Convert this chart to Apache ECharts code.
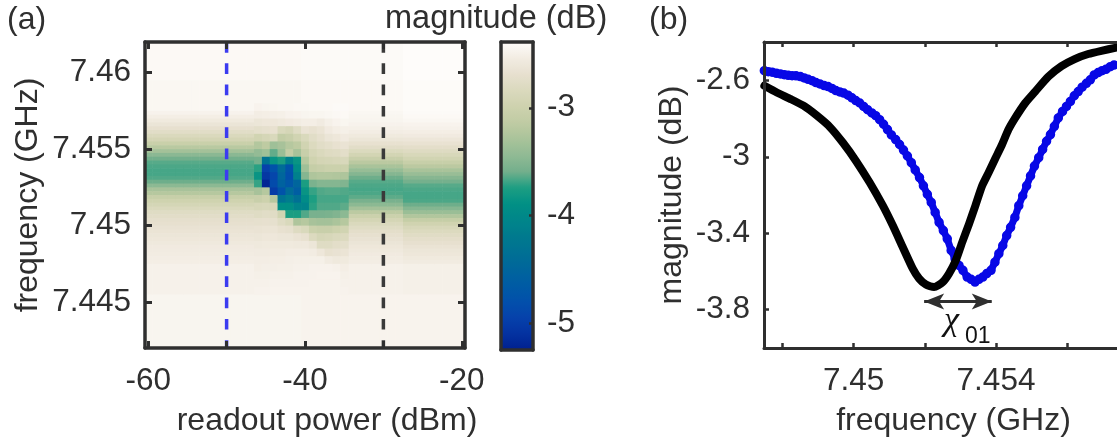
<!DOCTYPE html>
<html>
<head>
<meta charset="utf-8">
<style>html,body{margin:0;padding:0;background:#fff}#main{width:1117px;height:442px}</style>
<script src="https://cdn.jsdelivr.net/npm/echarts@6/dist/echarts.min.js"></script>
</head>
<body>
<div id="main"></div>
<script>
// (a) heatmap, base band: rows have uneven edges, fine only around the resonance
var baseEdges = [7.462, 7.4595, 7.4575, 7.45725, 7.457, 7.45675, 7.4565, 7.45625, 7.456, 7.45575, 7.4555, 7.45525, 7.455,
  7.45475, 7.4545, 7.45425, 7.454, 7.45375, 7.4535, 7.45325, 7.453, 7.45275, 7.4525, 7.45225, 7.452,
  7.45175, 7.4515, 7.45125, 7.451, 7.45075, 7.4505, 7.45025, 7.45, 7.44975, 7.4495, 7.44925, 7.449,
  7.44875, 7.4485, 7.44825, 7.448, 7.44775, 7.4475, 7.4455, 7.442];
var lowPower = [-2.42, -2.44, -2.48, -2.52, -2.57, -2.63, -2.69, -2.76, -2.84, -2.92, -3.04, -3.18, -3.32, -3.47, -3.59, -3.64,
  -3.66, -3.67, -3.67, -3.65, -3.6, -3.46, -3.3, -3.2, -3.06, -2.98, -2.91, -2.84, -2.78, -2.75, -2.71, -2.69, -2.66,
  -2.64, -2.62, -2.6, -2.58, -2.56, -2.55, -2.54, -2.53, -2.52, -2.49, -2.46];
var midPower = [-2.41, -2.42, -2.44, -2.45, -2.46, -2.48, -2.5, -2.53, -2.57, -2.62, -2.68, -2.75, -2.83, -2.93, -3.05, -3.17,
  -3.29, -3.4, -3.5, -3.6, -3.64, -3.66, -3.67, -3.66, -3.63, -3.56, -3.46, -3.32, -3.16, -3.02, -2.92, -2.84, -2.78,
  -2.73, -2.69, -2.66, -2.63, -2.6, -2.58, -2.56, -2.54, -2.53, -2.49, -2.47];
var highPower = [-2.39, -2.4, -2.41, -2.42, -2.44, -2.47, -2.49, -2.52, -2.56, -2.61, -2.67, -2.73, -2.8, -2.87, -2.95, -3.06,
  -3.17, -3.29, -3.39, -3.49, -3.58, -3.64, -3.66, -3.67, -3.67, -3.66, -3.6, -3.5, -3.38, -3.24, -3.08, -2.97, -2.88,
  -2.82, -2.77, -2.73, -2.69, -2.65, -2.62, -2.6, -2.57, -2.55, -2.5, -2.47];
var lowColumns = [-60, -59, -58, -57, -56, -55, -54, -53, -52, -51, -50, -49, -48, -47, -46, -45, -44, -43, -42, -41];
var midColumns = [-40, -39, -38, -37, -36, -35, -34, -33, -32, -31, -30, -29, -28];
var highColumns = [-27, -26, -25, -24, -23, -22, -21, -20];

// (a) heatmap, the bifurcation region between -46 and -35 dBm
var finEdges = [7.458, 7.4575, 7.457, 7.4565, 7.456, 7.4555, 7.455, 7.4545, 7.454, 7.4535, 7.453, 7.4525, 7.452,
  7.4515, 7.451, 7.4505, 7.45, 7.4495, 7.449, 7.4485, 7.448, 7.4475, 7.447, 7.4465, 7.446, 7.4455];
var finColumns = {
  '-46': [-2.47, -2.53, -2.62, -2.72, -2.95, -3.22, -3.42, -3.58, -3.72, -3.85, -3.7, -3.3, -3.05, -2.88, -2.78, -2.7, -2.65, -2.62, -2.58, -2.55, -2.53, -2.52, -2.5, -2.49, -2.48],
  '-45': [-2.46, -2.52, -2.6, -2.7, -2.9, -3.15, -3.35, -4.3, -4.95, -5.05, -5.2, -3.2, -3.0, -2.86, -2.76, -2.69, -2.64, -2.6, -2.57, -2.55, -2.53, -2.51, -2.5, -2.49, -2.48],
  '-44': [-2.45, -2.51, -2.6, -2.68, -2.85, -3.35, -3.62, -3.85, -4.75, -4.9, -4.85, -5.0, -3.2, -2.88, -2.77, -2.7, -2.64, -2.6, -2.57, -2.54, -2.52, -2.51, -2.49, -2.48, -2.47],
  '-43': [-2.44, -2.5, -2.58, -2.85, -3.1, -3.3, -3.38, -3.75, -4.4, -4.5, -4.55, -4.75, -4.3, -3.9, -2.95, -2.78, -2.68, -2.62, -2.57, -2.54, -2.52, -2.5, -2.49, -2.48, -2.47],
  '-42': [-2.44, -2.48, -2.56, -2.9, -3.05, -3.2, -3.1, -4.1, -4.75, -4.8, -4.7, -4.4, -4.15, -3.9, -3.75, -2.85, -2.7, -2.62, -2.57, -2.53, -2.51, -2.5, -2.49, -2.48, -2.47],
  '-41': [-2.43, -2.47, -2.54, -2.78, -2.95, -3.15, -3.3, -3.85, -3.95, -4.1, -4.5, -4.6, -4.35, -4.05, -3.75, -3.25, -2.8, -2.65, -2.58, -2.53, -2.5, -2.49, -2.48, -2.48, -2.47],
  '-40': [-2.43, -2.46, -2.52, -2.65, -2.85, -2.95, -3.05, -3.2, -3.35, -3.5, -3.75, -3.85, -3.95, -4.05, -3.65, -3.2, -2.85, -2.68, -2.58, -2.53, -2.5, -2.49, -2.48, -2.48, -2.47],
  '-39': [-2.42, -2.45, -2.52, -2.68, -2.76, -2.82, -2.9, -2.98, -3.08, -3.25, -3.55, -3.7, -3.74, -3.72, -3.56, -3.3, -3.02, -2.82, -2.62, -2.54, -2.5, -2.48, -2.48, -2.47, -2.47],
  '-38': [-2.42, -2.45, -2.55, -2.64, -2.7, -2.76, -2.84, -2.92, -3.05, -3.22, -3.5, -3.65, -3.67, -3.65, -3.56, -3.32, -3.05, -2.9, -2.78, -2.6, -2.5, -2.48, -2.47, -2.47, -2.47],
  '-37': [-2.42, -2.44, -2.5, -2.56, -2.63, -2.72, -2.8, -2.9, -3.02, -3.22, -3.5, -3.64, -3.67, -3.65, -3.55, -3.32, -3.05, -2.88, -2.78, -2.68, -2.55, -2.48, -2.47, -2.47, -2.47],
  '-36': [-2.41, -2.43, -2.47, -2.52, -2.6, -2.68, -2.78, -2.88, -3.02, -3.24, -3.5, -3.64, -3.67, -3.65, -3.52, -3.28, -3.0, -2.84, -2.74, -2.66, -2.58, -2.49, -2.47, -2.47, -2.47],
  '-35': [-2.41, -2.42, -2.45, -2.5, -2.56, -2.65, -2.74, -2.86, -3.02, -3.26, -3.52, -3.65, -3.67, -3.63, -3.46, -3.2, -2.95, -2.82, -2.72, -2.64, -2.57, -2.52, -2.5, -2.49, -2.48]
};

// colormap from -5.24 up to -2.39 in even steps
var mapColors = ['#00208f', '#0432a0', '#0642ab', '#0250ab', '#005ba4', '#00669c', '#007094', '#007a8e', '#00858a', '#019085',
  '#1c9e82', '#73af8c', '#90ba94', '#a9c39a', '#bfcba3', '#ced2ae', '#dad9bd', '#e7e0cf', '#f2ece2', '#fefcfa'];

// (b) traces
var blackFreq = [7.44749, 7.44784, 7.44821, 7.44859, 7.44896, 7.44933, 7.4497, 7.45007, 7.45045, 7.45082, 7.4511, 7.45138,
  7.45166, 7.45184, 7.45203, 7.45226, 7.45249, 7.45268, 7.45287, 7.45305, 7.45324, 7.45342, 7.45361, 7.4538, 7.45398,
  7.45417, 7.45435, 7.45454, 7.45482, 7.4551, 7.45547, 7.45584, 7.45621, 7.45659, 7.45696, 7.45738];
var blackMag = [-2.629, -2.664, -2.697, -2.733, -2.784, -2.844, -2.927, -3.023, -3.135, -3.256, -3.36, -3.473,
  -3.585, -3.637, -3.668, -3.681, -3.658, -3.611, -3.542, -3.447, -3.352, -3.256, -3.152, -3.08, -3.009,
  -2.936, -2.858, -2.797, -2.719, -2.659, -2.581, -2.526, -2.489, -2.463, -2.446, -2.429];
var blueFreq = [7.44749, 7.4476, 7.44771, 7.44783, 7.44794, 7.44805, 7.44816, 7.44827, 7.44838, 7.4485, 7.44861, 7.44872,
  7.44883, 7.44894, 7.44905, 7.44917, 7.44928, 7.44939, 7.4495, 7.44961, 7.44972, 7.44984, 7.44995, 7.45006, 7.45017,
  7.45028, 7.45039, 7.45051, 7.45062, 7.45073, 7.45084, 7.45095, 7.45106, 7.45118, 7.45129, 7.4514, 7.45151, 7.45162,
  7.45173, 7.45185, 7.45196, 7.45207, 7.45218, 7.45229, 7.4524, 7.45252, 7.45263, 7.45274, 7.45285, 7.45296, 7.45307,
  7.45319, 7.4533, 7.45341, 7.45352, 7.45363, 7.45374, 7.45386, 7.45397, 7.45408, 7.45419, 7.4543, 7.45441, 7.45453,
  7.45464, 7.45475, 7.45486, 7.45497, 7.45508, 7.4552, 7.45531, 7.45542, 7.45553, 7.45564, 7.45575, 7.45587, 7.45598,
  7.45609, 7.4562, 7.45631, 7.45642, 7.45654, 7.45665, 7.45676, 7.45687, 7.45698, 7.45709, 7.45721, 7.45732];
var blueMag = [-2.55, -2.555, -2.558, -2.564, -2.567, -2.571, -2.574, -2.576, -2.577, -2.581, -2.588, -2.595,
  -2.602, -2.612, -2.619, -2.628, -2.633, -2.643, -2.654, -2.661, -2.667, -2.678, -2.692, -2.706, -2.719,
  -2.737, -2.754, -2.771, -2.785, -2.806, -2.83, -2.858, -2.886, -2.91, -2.936, -2.965, -2.996, -3.031,
  -3.069, -3.109, -3.152, -3.196, -3.239, -3.291, -3.343, -3.386, -3.429, -3.49, -3.533, -3.568, -3.594,
  -3.629, -3.641, -3.655, -3.641, -3.629, -3.611, -3.594, -3.551, -3.507, -3.464, -3.412, -3.369, -3.317,
  -3.256, -3.204, -3.152, -3.1, -3.049, -3.005, -2.962, -2.919, -2.884, -2.841, -2.797, -2.763, -2.737,
  -2.711, -2.681, -2.659, -2.636, -2.616, -2.598, -2.572, -2.56, -2.55, -2.543, -2.529, -2.52];

var powerTicks = [-60, -50, -40, -30, -20];
var powerLabels = [-60, -40, -20];
var freqTicks = [7.445, 7.45, 7.455, 7.46];
var barTicks = [-5, -4, -3];
var specFreqTicks = [7.448, 7.45, 7.452, 7.454, 7.456];
var specFreqLabels = [7.45, 7.454];
var specMagTicks = [-3.8, -3.4, -3, -2.6];

var font = '"Liberation Sans", Arial, sans-serif';
var ink = '#2f2f2f';

var baseCells = [];
function addBase(columns, profile) {
  columns.forEach(function (p) {
    profile.forEach(function (v, i) {
      baseCells.push([p, baseEdges[i], baseEdges[i + 1], v]);
    });
  });
}
addBase(lowColumns, lowPower);
addBase(midColumns, midPower);
addBase(highColumns, highPower);

var finCells = [];
Object.keys(finColumns).forEach(function (p) {
  finColumns[p].forEach(function (v, i) {
    finCells.push([+p, finEdges[i], finEdges[i + 1], v]);
  });
});

function renderCell(params, api) {
  var a = api.coord([api.value(0) - 0.5, api.value(1)]);
  var b = api.coord([api.value(0) + 0.5, api.value(2)]);
  return {
    type: 'rect',
    shape: { x: a[0], y: a[1], width: b[0] - a[0] + 0.6, height: b[1] - a[1] + 0.6 },
    style: { fill: api.visual('color') }
  };
}

function frameAxis(extra) {
  var ax = {
    type: 'value',
    z: 10,
    scale: true,
    splitLine: { show: false },
    axisLine: { show: true, onZero: false, lineStyle: { color: ink, width: 3.5 } },
    axisTick: { show: true, inside: true, length: 7, lineStyle: { color: ink, width: 3 } },
    axisLabel: { show: false }
  };
  return Object.assign(ax, extra);
}
function labels(values, margin) {
  return { show: true, customValues: values, color: ink, fontFamily: font, fontSize: 31.5, margin: margin };
}
function nameStyle(padding) {
  return { color: ink, fontFamily: font, fontSize: 32, padding: padding || 0 };
}

var chart = echarts.init(document.getElementById('main'));
chart.setOption({
  animation: false,
  backgroundColor: '#fff',
  grid: [
    { left: 145, top: 42, width: 320, height: 308 },
    { left: 501, top: 42, width: 32, height: 308 },
    { left: 764, top: 42, width: 355, height: 308 }
  ],
  xAxis: [
    frameAxis({
      gridIndex: 0, position: 'bottom', min: -60.41, max: -19.59,
      axisTick: { show: true, inside: true, length: 7, customValues: powerTicks, lineStyle: { color: ink, width: 3 } },
      axisLabel: labels(powerLabels, 17), name: 'readout power (dBm)', nameLocation: 'center', nameGap: 57,
      nameTextStyle: nameStyle([0, 0, 0, 44])
    }),
    frameAxis({
      gridIndex: 0, position: 'top', min: -60.41, max: -19.59,
      axisTick: { show: true, inside: true, length: 7, customValues: powerTicks, lineStyle: { color: ink, width: 3 } }
    }),
    frameAxis({ gridIndex: 1, position: 'bottom', min: 0, max: 1, axisTick: { show: false } }),
    frameAxis({ gridIndex: 1, position: 'top', min: 0, max: 1, axisTick: { show: false } }),
    frameAxis({
      gridIndex: 2, position: 'bottom', min: 7.44748, max: 7.4574,
      axisTick: { show: true, inside: true, length: 5, customValues: specFreqTicks, lineStyle: { color: ink, width: 2.5 } },
      axisLine: { show: true, onZero: false, lineStyle: { color: ink, width: 3 } },
      axisLabel: labels(specFreqLabels, 17), name: 'frequency (GHz)', nameLocation: 'center', nameGap: 57,
      nameTextStyle: nameStyle([0, 0, 0, 26])
    }),
    frameAxis({
      gridIndex: 2, position: 'top', min: 7.44748, max: 7.4574,
      axisTick: { show: true, inside: true, length: 5, customValues: specFreqTicks, lineStyle: { color: ink, width: 2.5 } },
      axisLine: { show: true, onZero: false, lineStyle: { color: ink, width: 3 } }
    })
  ],
  yAxis: [
    frameAxis({
      gridIndex: 0, position: 'left', min: 7.442, max: 7.462,
      axisTick: { show: true, inside: true, length: 7, customValues: freqTicks, lineStyle: { color: ink, width: 3 } },
      axisLabel: labels(freqTicks, 14), name: 'frequency (GHz)', nameLocation: 'center', nameGap: 101, nameTextStyle: nameStyle()
    }),
    frameAxis({
      gridIndex: 0, position: 'right', min: 7.442, max: 7.462,
      axisTick: { show: true, inside: true, length: 7, customValues: freqTicks, lineStyle: { color: ink, width: 3 } }
    }),
    frameAxis({ gridIndex: 1, position: 'left', min: -5.245, max: -2.39, axisTick: { show: false } }),
    frameAxis({
      gridIndex: 1, position: 'right', min: -5.245, max: -2.39,
      axisTick: { show: true, inside: true, length: 4, customValues: barTicks, lineStyle: { color: ink, width: 2.5 } },
      axisLabel: labels(barTicks, 14)
    }),
    frameAxis({
      gridIndex: 2, position: 'left', min: -4, max: -2.4,
      axisTick: { show: true, inside: true, length: 5, customValues: specMagTicks, lineStyle: { color: ink, width: 2.5 } },
      axisLine: { show: true, onZero: false, lineStyle: { color: ink, width: 3 } },
      axisLabel: labels(specMagTicks, 14), name: 'magnitude (dB)', nameLocation: 'center', nameGap: 76, nameTextStyle: nameStyle()
    })
  ],
  visualMap: {
    type: 'continuous',
    seriesIndex: [0, 1],
    dimension: 3,
    min: -5.245,
    max: -2.39,
    left: 501,
    top: 42,
    padding: 0,
    itemWidth: 32,
    itemHeight: 308,
    text: null,
    showLabel: false,
    calculable: false,
    hoverLink: false,
    realtime: false,
    inRange: { color: mapColors }
  },
  series: [
    {
      type: 'custom', xAxisIndex: 0, yAxisIndex: 0, renderItem: renderCell, data: baseCells,
      encode: { x: 0, y: [1, 2] }, clip: true, silent: true
    },
    {
      type: 'custom', xAxisIndex: 0, yAxisIndex: 0, renderItem: renderCell, data: finCells,
      encode: { x: 0, y: [1, 2] }, clip: true, silent: true
    },
    {
      type: 'line', xAxisIndex: 0, yAxisIndex: 0, symbol: 'none', z: 5,
      data: [[-50, 7.462], [-50, 7.442]],
      lineStyle: { color: '#3b3bf0', width: 3.5, type: [10.7, 10.6] }
    },
    {
      type: 'line', xAxisIndex: 0, yAxisIndex: 0, symbol: 'none', z: 5,
      data: [[-30, 7.462], [-30, 7.442]],
      lineStyle: { color: '#3a3a3a', width: 3.5, type: [10.7, 10.6] }
    },
    {
      type: 'scatter', xAxisIndex: 4, yAxisIndex: 4, symbol: 'circle', symbolSize: 8, z: 4,
      data: blueFreq.map(function (f, i) { return [f, blueMag[i]]; }),
      itemStyle: { color: '#0808e6', opacity: 1, borderColor: '#0808e6', borderWidth: 1.5 }
    },
    {
      type: 'line', xAxisIndex: 4, yAxisIndex: 4, symbol: 'none', z: 3,
      data: blueFreq.map(function (f, i) { return [f, blueMag[i]]; }),
      lineStyle: { color: '#0808e6', width: 7 }
    },
    {
      type: 'line', xAxisIndex: 4, yAxisIndex: 4, symbol: 'none', smooth: 0.2, z: 5,
      data: blackFreq.map(function (f, i) { return [f, blackMag[i]]; }),
      lineStyle: { color: '#000', width: 8, cap: 'round', join: 'round' },
      markLine: {
        silent: true,
        symbol: ['arrow', 'arrow'],
        symbolSize: [12, 20],
        label: { show: false },
        lineStyle: { color: ink, width: 3, type: 'solid' },
        data: [[{ coord: [7.45198, -3.757] }, { coord: [7.45388, -3.757] }]]
      }
    }
  ],
  graphic: [
    { type: 'text', left: 7, top: 4, style: { text: '(a)', fill: ink, font: '32px ' + font } },
    { type: 'text', left: 649, top: 4, style: { text: '(b)', fill: ink, font: '32px ' + font } },
    { type: 'text', left: 385, top: 3, style: { text: 'magnitude (dB)', fill: ink, font: '32.5px ' + font } },
    { type: 'text', left: 944, top: 304, style: { text: 'χ', fill: '#111', font: 'italic 34px "Liberation Serif", serif' } },
    { type: 'text', left: 965, top: 325, style: { text: '01', fill: '#111', font: '23px ' + font } }
  ]
});
</script>
</body>
</html>
